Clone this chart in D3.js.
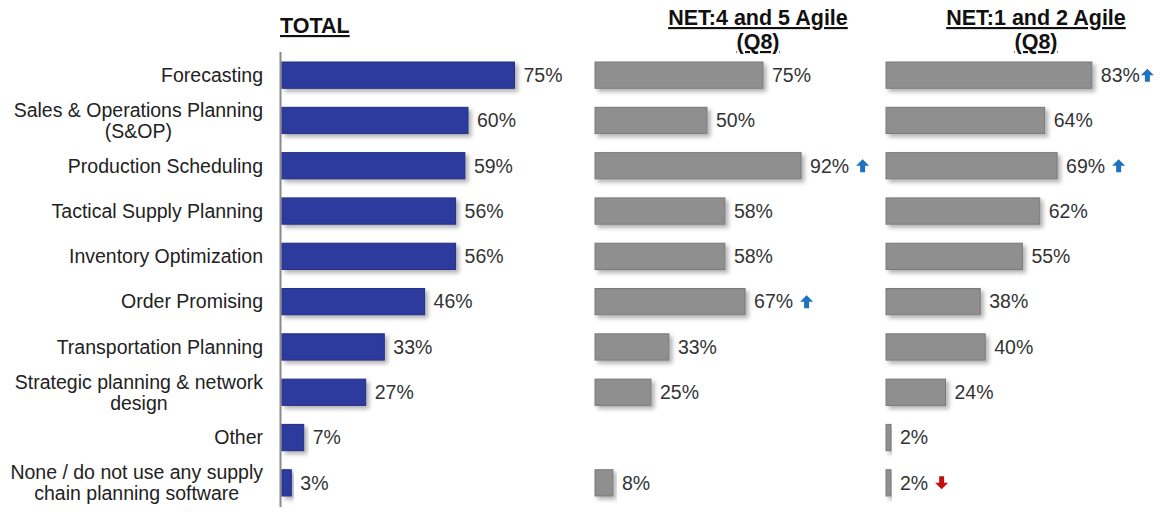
<!DOCTYPE html>
<html><head><meta charset="utf-8">
<script src="https://cdn.jsdelivr.net/npm/d3@7"></script>
<style>body{margin:0;background:#fff;} svg{display:block;font-family:"Liberation Sans",Arial,sans-serif;}</style>
</head><body>
<svg id="c" width="1160" height="523"></svg>
<script>
const categories = ["Forecasting","Sales & Operations Planning\n(S&OP)","Production Scheduling","Tactical Supply Planning","Inventory Optimization","Order Promising","Transportation Planning","Strategic planning & network\ndesign","Other","None / do not use any supply\nchain planning software"];
const totalValues = [75,60,59,56,56,46,33,27,7,3];
const agile45Values = [75,50,92,58,58,67,33,25,null,8];
const agile12Values = [83,64,69,62,55,38,40,24,2,2];
const agile45Sig = ["","","up","","","up","","","",""];
const agile12Sig = ["up","","up","","","","","","","down"];
const panelTitles = [["TOTAL"],["NET:4 and 5 Agile","(Q8)"],["NET:1 and 2 Agile","(Q8)"]];

const svg = d3.select("#c");
const defs = svg.append("defs");
const f = defs.append("filter").attr("id","sh").attr("x","-10%").attr("y","-20%").attr("width","130%").attr("height","160%");
f.append("feDropShadow").attr("dx",3).attr("dy",3).attr("stdDeviation",2).attr("flood-color","#000").attr("flood-opacity",0.3);

const y = d3.scaleBand().domain(categories).range([52.5,505.5]).paddingInner(0.42).paddingOuter(0.21);

const panels = [
  {vals: totalValues, sig: null, x: d3.scaleLinear().domain([0,100]).range([282,592]), color:"#2e3b9e", stroke:"#252f85", title: panelTitles[0], tx:280, anchor:"start"},
  {vals: agile45Values, sig: agile45Sig, x: d3.scaleLinear().domain([0,100]).range([595,819]), color:"#8f8f8f", stroke:"#7a7a7a", title: panelTitles[1], tx:758, anchor:"middle"},
  {vals: agile12Values, sig: agile12Sig, x: d3.scaleLinear().domain([0,100]).range([886,1134]), color:"#8f8f8f", stroke:"#7a7a7a", title: panelTitles[2], tx:1036, anchor:"middle"}
];

// category labels
const lab = svg.append("g").attr("font-size",19.5).attr("fill","#222");
categories.forEach(c => {
  const lines = c.split("\n");
  const cy = y(c) + y.bandwidth()/2;
  if (lines.length === 1) {
    lab.append("text").attr("x",263).attr("y",cy).attr("dy","0.35em").attr("text-anchor","end").text(lines[0]);
  } else {
    const g = lab.append("g");
    const ts = lines.map((l,i) => g.append("text").attr("y", cy + (i - (lines.length-1)/2)*21).attr("dy","0.35em").attr("text-anchor","middle").text(l));
    const w = d3.max(ts, t => t.node().getComputedTextLength());
    ts.forEach(t => t.attr("x", 263 - w/2));
  }
});

// axis line for TOTAL
svg.append("line").attr("x1",280.5).attr("x2",280.5).attr("y1",52).attr("y2",507).attr("stroke","#8a8a8a").attr("stroke-width",2);

function arrow(g, x, cy, dir, color) {
  const s = 13, h = s/2;
  const p = dir === "up"
    ? `M${x+h},${cy-h} L${x+s},${cy} L${x+9},${cy} L${x+9},${cy+h} L${x+4},${cy+h} L${x+4},${cy} L${x},${cy} Z`
    : `M${x+h},${cy+h} L${x+s},${cy} L${x+9},${cy} L${x+9},${cy-h} L${x+4},${cy-h} L${x+4},${cy} L${x},${cy} Z`;
  g.append("path").attr("d",p).attr("fill",color);
}

panels.forEach(p => {
  const g = svg.append("g");
  const tt = g.append("g").attr("font-size",21.5).attr("font-weight","bold").attr("fill","#111");
  p.title.forEach((t,i) => {
    tt.append("text").attr("x",p.tx).attr("y", p.title.length===1 ? 33 : 25 + i*24).attr("text-anchor",p.anchor).attr("text-decoration","underline").text(t);
  });
  categories.forEach((c,i) => {
    const v = p.vals[i];
    if (v == null) return;
    const x0 = p.x(0), x1 = p.x(v);
    g.append("rect").attr("x",x0).attr("y",y(c)).attr("width",Math.max(0,x1-x0)).attr("height",y.bandwidth())
      .attr("fill",p.color).attr("stroke",p.stroke).attr("stroke-width",1).attr("filter","url(#sh)");
    const cy = y(c) + y.bandwidth()/2;
    const t = g.append("text").attr("x",x1+9).attr("y",cy).attr("dy","0.35em").attr("font-size",19.5).attr("fill","#333").text(v+"%");
    if (p.sig && p.sig[i]) {
      const w = t.node().getComputedTextLength();
      arrow(g, x1+9+w+(i===0?1:7), cy, p.sig[i], p.sig[i]==="up" ? "#1f72bf" : "#c41010");
    }
  });
});
</script>
</body></html>
